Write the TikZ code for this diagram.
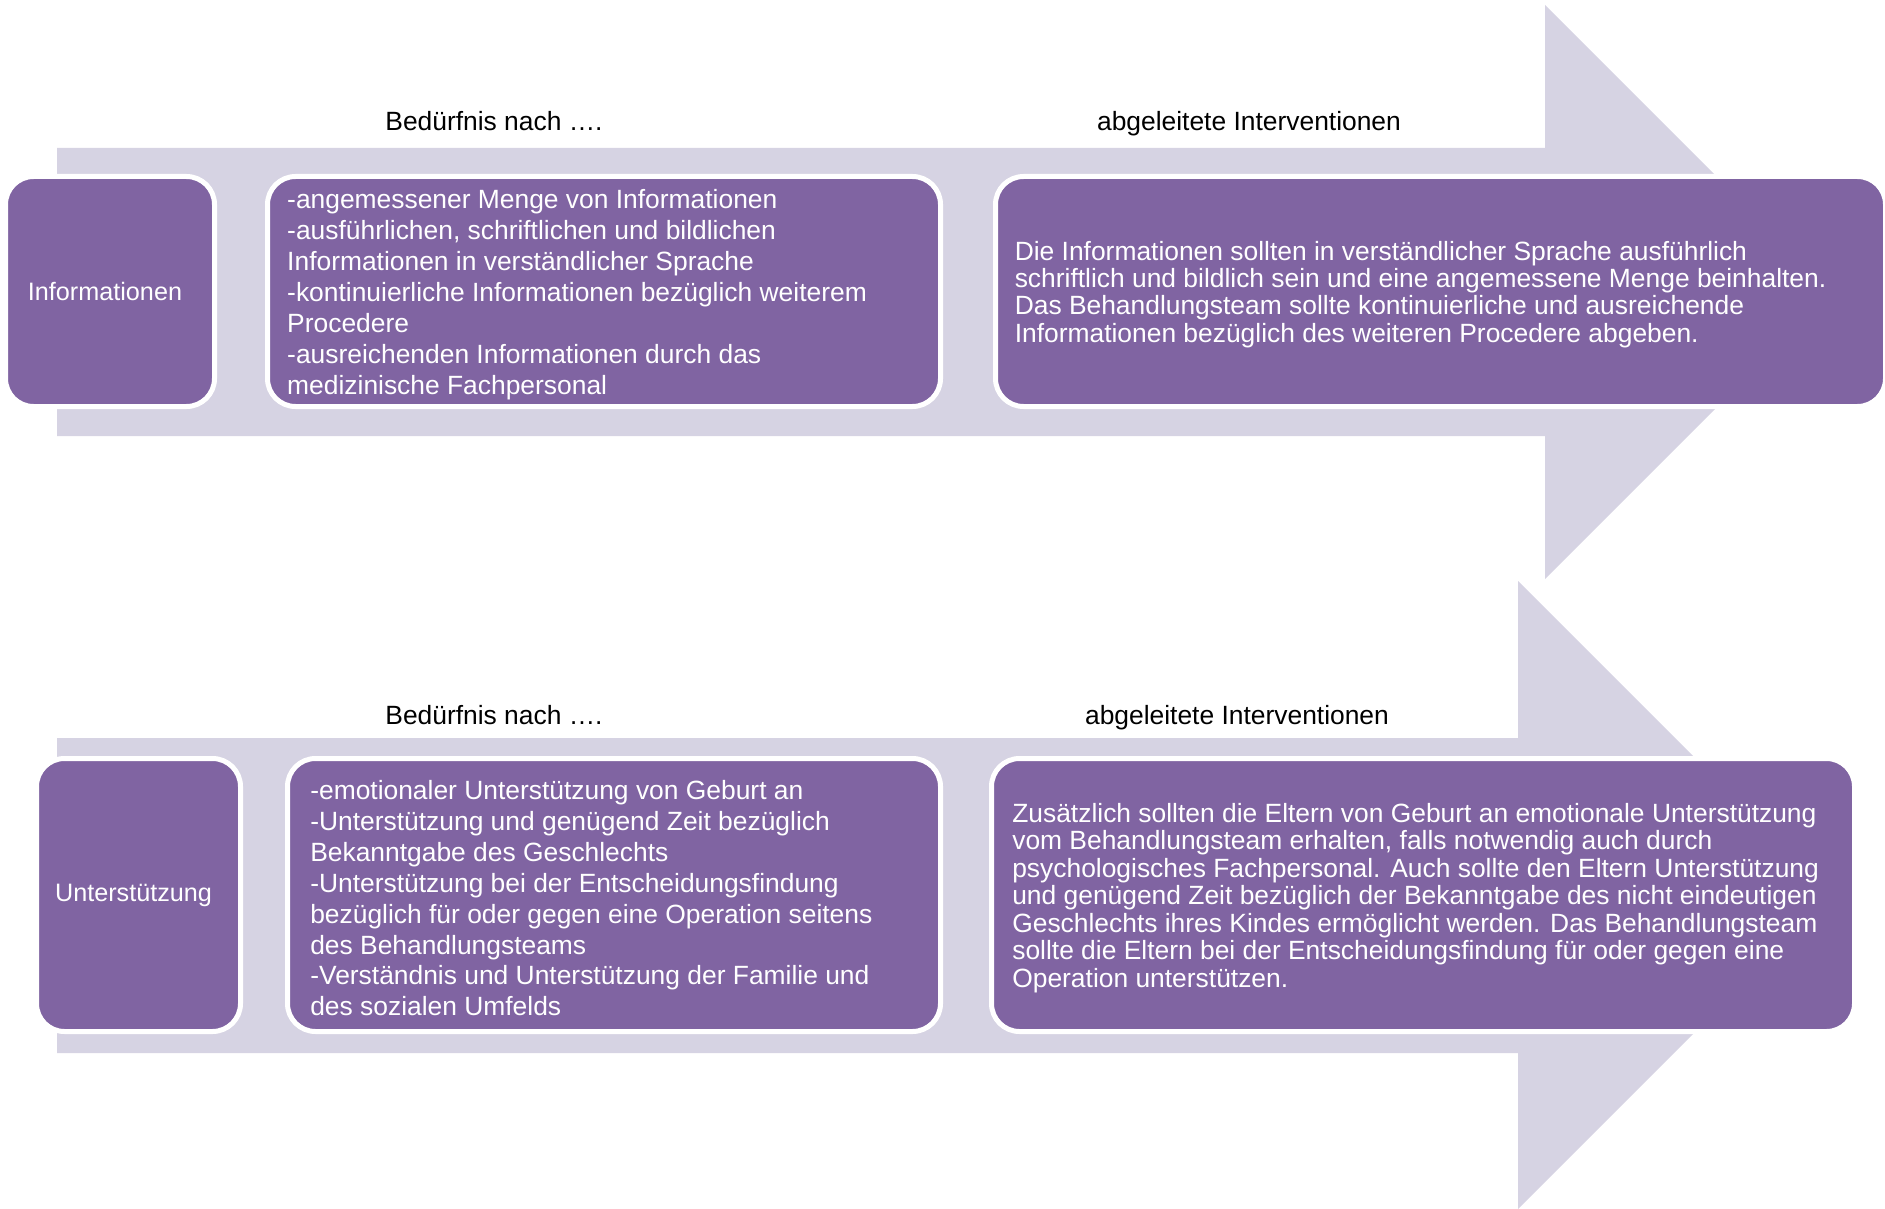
\documentclass[tikz,border=0pt]{standalone}
\usepackage{fontspec}
\setmainfont{Liberation Sans}
\definecolor{boxpurple}{HTML}{8064A2}
\definecolor{arrowlav}{HTML}{D6D3E3}
\begin{document}
\begin{tikzpicture}[x=0.75pt,y=-0.75pt,
  arrowshape/.style={fill=arrowlav, draw=none},
  box/.style={rectangle, rounded corners=21pt, fill=boxpurple, draw=white, line width=3.75pt, inner sep=0pt, outer sep=0pt},
  listtext/.style={text=white, font=\fontsize{19.8}{23.2}\selectfont, align=left, inner sep=0pt, anchor=west, yshift=-2.4pt},
  paratext/.style={text=white, font=\fontsize{19.8}{20.6}\selectfont, align=left, inner sep=0pt, anchor=west, yshift=-2.2pt},
  labeltext/.style={text=white, font=\fontsize{18.9}{22}\selectfont, inner sep=0pt},
  headtext/.style={text=black, font=\fontsize{19.8}{24}\selectfont, inner sep=0pt, text height=14.3pt, text depth=0pt}
]
\useasboundingbox (0,0) rectangle (1885,1209);
% arrows
\fill[arrowshape] (57,148) -- (1545,148) -- (1545,5) -- (1832,292) -- (1545,579) -- (1545,436) -- (57,436) -- cycle;
\fill[arrowshape] (57,738) -- (1518,738) -- (1518,581) -- (1832,895) -- (1518,1209) -- (1518,1053) -- (57,1053) -- cycle;
% headings
\node[headtext] (h1a) at (494,121) {Bedürfnis nach ….};
\node[headtext] (h1b) at (1249,121) {abgeleitete Interventionen};
\node[headtext] (h2a) at (494,715) {Bedürfnis nach ….};
\node[headtext] (h2b) at (1237,715) {abgeleitete Interventionen};
% row 1 boxes
\node[box, minimum width=156.75pt, minimum height=172.5pt] (b1) at (110,291.5) {};
\node[box, minimum width=504.75pt, minimum height=172.5pt] (b2) at (604,291.5) {};
\node[box, minimum width=667.5pt, minimum height=172.5pt] (b3) at (1440.5,291.5) {};
% row 2 boxes
\node[box, minimum width=153pt, minimum height=204.75pt] (c1) at (138.5,895) {};
\node[box, minimum width=489.75pt, minimum height=204.75pt] (c2) at (614,895) {};
\node[box, minimum width=647.25pt, minimum height=204.75pt] (c3) at (1423,895) {};
% texts
\node[labeltext] (l1) at ([xshift=-3.75pt]b1.center) {Informationen};
\node[labeltext] (l2) at ([xshift=-3.75pt]c1.center) {Unterstützung};
\node[listtext] (t2) at ([xshift=14.6pt]b2.west) {-angemessener Menge von Informationen\\-ausführlichen, schriftlichen und bildlichen\\Informationen in verständlicher Sprache\\-kontinuierliche Informationen bezüglich weiterem\\Procedere\\-ausreichenden Informationen durch das\\medizinische Fachpersonal};
\node[paratext] (t3) at ([xshift=14.25pt]b3.west) {Die Informationen sollten in verständlicher Sprache ausführlich\\schriftlich und bildlich sein und eine angemessene Menge beinhalten.\\Das Behandlungsteam sollte kontinuierliche und ausreichende\\Informationen bezüglich des weiteren Procedere abgeben.};
\node[listtext] (u2) at ([xshift=16.9pt]c2.west) {-emotionaler Unterstützung von Geburt an\\-Unterstützung und genügend Zeit bezüglich\\Bekanntgabe des Geschlechts\\-Unterstützung bei der Entscheidungsfindung\\bezüglich für oder gegen eine Operation seitens\\des Behandlungsteams\\-Verständnis und Unterstützung der Familie und\\des sozialen Umfelds};
\node[paratext] (u3) at ([xshift=15.4pt]c3.west) {Zusätzlich sollten die Eltern von Geburt an emotionale Unterstützung\\vom Behandlungsteam erhalten, falls notwendig auch durch\\psychologisches Fachpersonal. Auch sollte den Eltern Unterstützung\\und genügend Zeit bezüglich der Bekanntgabe des nicht eindeutigen\\Geschlechts ihres Kindes ermöglicht werden. Das Behandlungsteam\\sollte die Eltern bei der Entscheidungsfindung für oder gegen eine\\Operation unterstützen.};
\end{tikzpicture}
\end{document}
